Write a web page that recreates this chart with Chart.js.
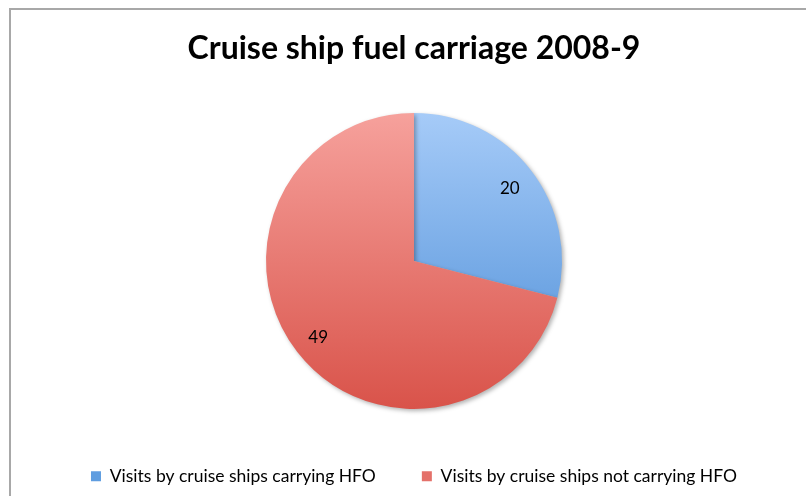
<!DOCTYPE html>
<html>
<head>
<meta charset="utf-8">
<script src="https://cdn.jsdelivr.net/npm/chart.js@4/dist/chart.umd.min.js"></script>
<style>
  html, body { margin: 0; padding: 0; background: #fff; }
  #wrap { position: relative; width: 806px; height: 496px; overflow: hidden; }
  #frame { position: absolute; left: 9px; top: 8px; width: 900px; height: 600px;
           border-left: 2px solid #a8a8a8; border-top: 2px solid #a8a8a8; pointer-events: none; }
</style>
</head>
<body>
<div id="wrap">
  <canvas id="chart" width="806" height="496"></canvas>
  <div id="frame"></div>
</div>
<script>
var labels = ["Visits by cruise ships carrying HFO", "Visits by cruise ships not carrying HFO"];
var values = [20, 49];
var topColors = ["#a6cbf8", "#f6a19c"];
var bottomColors = ["#4a8cd6", "#d9534a"];
var legendColors = ["#5f9de0", "#e4716a"];

var pieRadius = 148;

function sliceFill(context) {
  var chart = context.chart;
  var area = chart.chartArea;
  if (!area) return topColors[context.dataIndex];
  var cy = (area.top + area.bottom) / 2;
  var g = chart.ctx.createLinearGradient(0, cy - pieRadius, 0, cy + pieRadius);
  g.addColorStop(0, topColors[context.dataIndex]);
  g.addColorStop(1, bottomColors[context.dataIndex]);
  return g;
}

// soft shadow under the pie
var shadowPlugin = {
  id: "shadow",
  beforeDatasetsDraw: function (chart) {
    var ctx = chart.ctx;
    ctx.save();
    ctx.shadowColor = "rgba(0,0,0,0.3)";
    ctx.shadowBlur = 4;
    ctx.shadowOffsetX = 2;
    ctx.shadowOffsetY = 2;
  },
  afterDatasetsDraw: function (chart) {
    chart.ctx.restore();
  }
};

// value labels inside the slices
var valueLabels = {
  id: "valueLabels",
  afterDraw: function (chart) {
    var ctx = chart.ctx;
    var meta = chart.getDatasetMeta(0);
    ctx.save();
    ctx.font = "17px Lato";
    ctx.fillStyle = "#000";
    ctx.textAlign = "center";
    ctx.textBaseline = "middle";
    meta.data.forEach(function (arc, i) {
      var mid = (arc.startAngle + arc.endAngle) / 2;
      var r = arc.outerRadius * 0.82;
      ctx.fillText(values[i], arc.x + Math.cos(mid) * r, arc.y + Math.sin(mid) * r + 2);
    });
    ctx.restore();
  }
};

var chart = new Chart(document.getElementById("chart").getContext("2d"), {
  type: "pie",
  data: {
    labels: labels,
    datasets: [{
      data: values,
      backgroundColor: sliceFill,
      borderWidth: 0
    }]
  },
  plugins: [shadowPlugin, valueLabels],
  options: {
    responsive: false,
    animation: false,
    radius: pieRadius,
    layout: { padding: { left: 22, right: 0, top: 0, bottom: 1 } },
    plugins: {
      tooltip: { enabled: false },
      title: {
        display: true,
        text: "Cruise ship fuel carriage 2008-9",
        color: "#000",
        font: { family: "Lato", size: 32, weight: "bold" },
        padding: { top: 29, bottom: 33 }
      },
      legend: {
        position: "bottom",
        labels: {
          color: "#000",
          font: { family: "Lato", size: 17.5 },
          boxWidth: 10,
          boxHeight: 10,
          padding: 46,
          generateLabels: function () {
            return labels.map(function (t, i) {
              return { text: t, fillStyle: legendColors[i], strokeStyle: legendColors[i], lineWidth: 0, index: i };
            });
          }
        }
      }
    }
  }
});
</script>
</body>
</html>
